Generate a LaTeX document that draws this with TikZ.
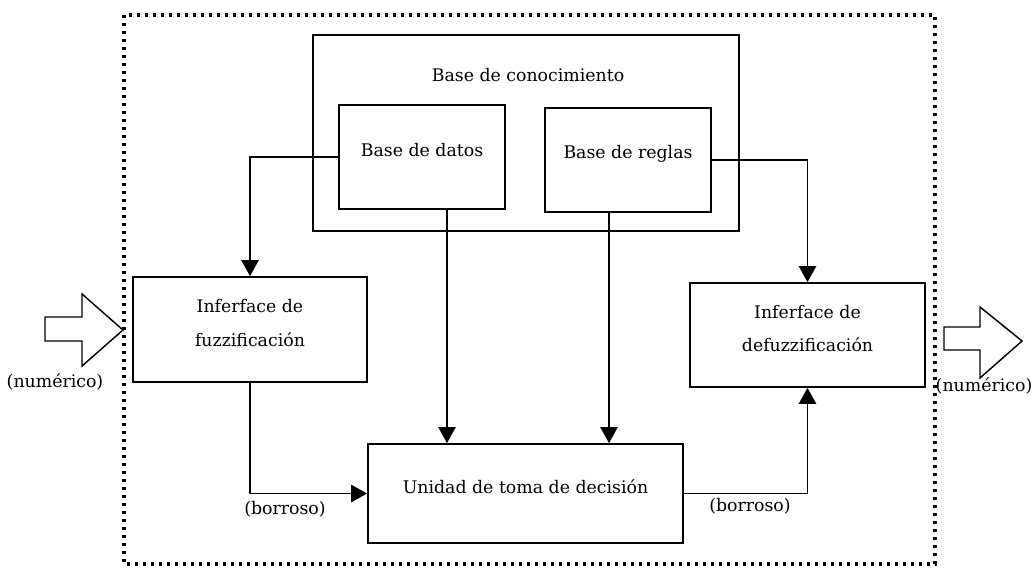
\documentclass[tikz,border=0pt]{standalone}
\usepackage{fontspec}
\setmainfont{DejaVu Serif}
\usetikzlibrary{fit,arrows.meta}
\tikzset{
  box/.style={draw, line width=1.3pt, inner sep=0pt, align=center, font=\fontsize{13}{25}\selectfont},
  kbox/.style={box, line width=2pt},
  arr/.style={line width=1.1pt, -{Triangle[width=13pt,length=12pt]}},
  lab/.style={font=\fontsize{13}{15}\selectfont, inner sep=0pt},
  border/.style={line width=2.5pt, dash pattern=on 2.3pt off 3.7pt},
  bigarrow/.style={draw, line width=1.1pt, line join=miter}
}
\begin{document}
\begin{tikzpicture}[x=0.75pt,y=-0.75pt]
\useasboundingbox (0,0) rectangle (1036,571);
% outer dotted border
\draw[border] (124,15) rectangle (935,564);
% knowledge base
\node[kbox, fit={(313,35) (739,231)}] (kb) {};
\node[lab] (kbl) at (528,75) {Base de conocimiento};
\node[box, fit={(339,105) (505,209)}] (datos) {Base de datos};
\node[box, fit={(545,108) (711,212)}] (reglas) {Base de reglas};
% interfaces
\node[box, fit={(133,277) (367,382)}] (fuzz) {Inferface de\\fuzzificación};
\node[box, fit={(690,283) (925,387)}] (defuzz) {Inferface de\\defuzzificación};
% decision unit
\node[box, fit={(368,444) (683,543)}] (unid) {Unidad de toma de decisión};
% connectors
\draw[arr] (datos.west) -| (fuzz.north);
\draw[arr] (reglas.east) -| (defuzz.north);
\draw[arr] (datos.south -| 447,0) -- (447,0 |- unid.north);
\draw[arr] (reglas.south -| 609,0) -- (609,0 |- unid.north);
\draw[arr] (fuzz.south) |- (unid.west);
\draw[arr] (unid.east) -| (defuzz.south);
% labels
\node[lab] (b1) at (285,509) {(borroso)};
\node[lab] (b2) at (750,506) {(borroso)};
\node[lab] (n1) at (55,382) {(numérico)};
\node[lab] (n2) at (984,386) {(numérico)};
% big hollow arrows
\draw[bigarrow] (45,317) -- (82,317) -- (82,294) -- (123,330) -- (82,366) -- (82,341) -- (45,341) -- cycle;
\draw[bigarrow] (944,327) -- (980,327) -- (980,307) -- (1022,341) -- (980,378) -- (980,350) -- (944,350) -- cycle;
\end{tikzpicture}
\end{document}
